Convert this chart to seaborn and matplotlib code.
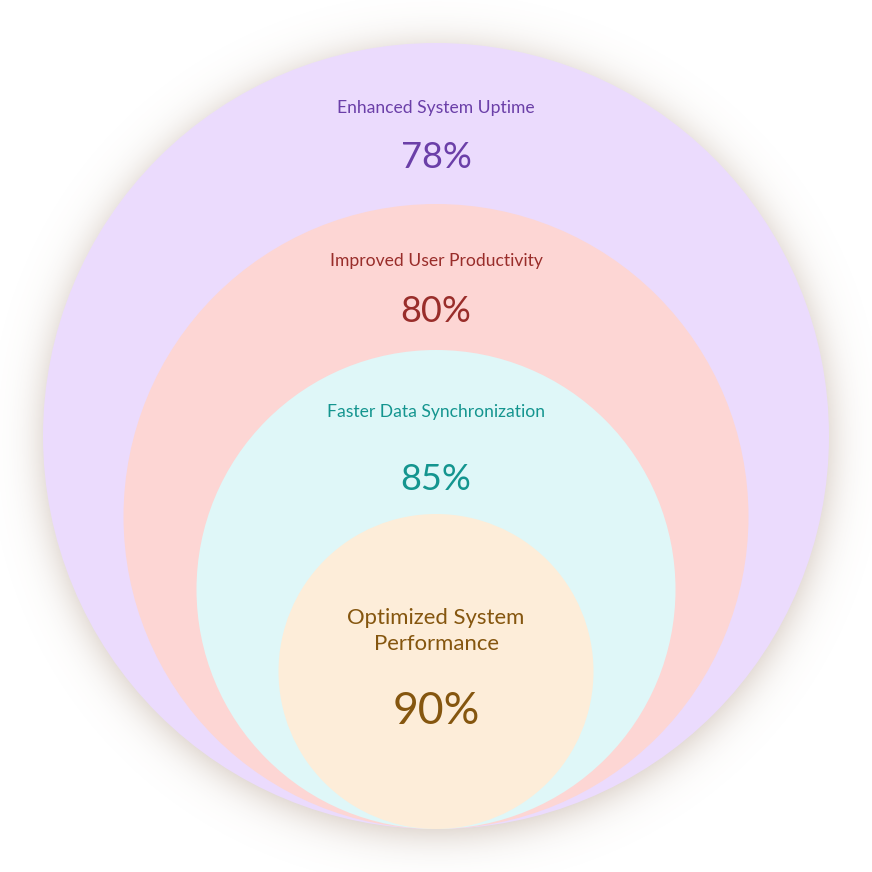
import numpy as np
import seaborn as sns
from matplotlib import pyplot as plt
from matplotlib.patches import Circle

sns.set_theme(style="white")
plt.rcParams['font.family'] = ['Lato', 'DejaVu Sans']

# data, outer ring first
labels = ['Enhanced System Uptime', 'Improved User Productivity',
          'Faster Data Synchronization', 'Optimized System\nPerformance']
values = [78, 80, 85, 90]

# layout (pixel coordinates of the 872x872 canvas)
radii = [393, 312.5, 239.5, 157.5]
bottom_y = 829
center_x = 436
label_y = [108, 261, 412, 631]
value_y = [158, 311, 479, 711]
label_size = [12.6, 12.6, 12.6, 15.9]
value_size = [26, 26, 26, 32]

fills = ['#ebdbfd', '#fdd6d4', '#dff7f8', '#fdedd9']
text_colors = ['#6b3fa8', '#992d2a', '#14958f', '#85560f']

fig = plt.figure(figsize=(8.72, 8.72), dpi=100)
ax = fig.add_axes([0, 0, 1, 1])
ax.set_xlim(0, 872)
ax.set_ylim(872, 0)
ax.set_aspect('equal')
ax.axis('off')

# soft glow around the outer circle
cy0 = bottom_y - radii[0]
yy, xx = np.mgrid[0:872, 0:872] + 0.5
d = np.sqrt((xx - center_x) ** 2 + (yy - (cy0 + 5)) ** 2)
alpha = 0.42 / (1 + np.exp((d - radii[0] + 2) / 12.0))
rgba = np.zeros((872, 872, 4))
rgba[..., 0] = 0.55
rgba[..., 1] = 0.42
rgba[..., 2] = 0.32
rgba[..., 3] = alpha
ax.imshow(rgba, extent=(0, 872, 872, 0), zorder=0, interpolation='bilinear')

for i, r in enumerate(radii):
    cy = bottom_y - r
    ax.add_patch(Circle((center_x, cy), r, facecolor=fills[i],
                        edgecolor='none', zorder=1 + i))
    ax.text(center_x, label_y[i], labels[i], ha='center', va='center',
            fontsize=label_size[i], color=text_colors[i], zorder=10,
            linespacing=1.38)
    ax.text(center_x, value_y[i], f'{values[i]}%', ha='center', va='center',
            fontsize=value_size[i], color=text_colors[i], zorder=10)

ax.set_xlim(0, 872)
ax.set_ylim(872, 0)
fig.savefig('out.png', dpi=100)
